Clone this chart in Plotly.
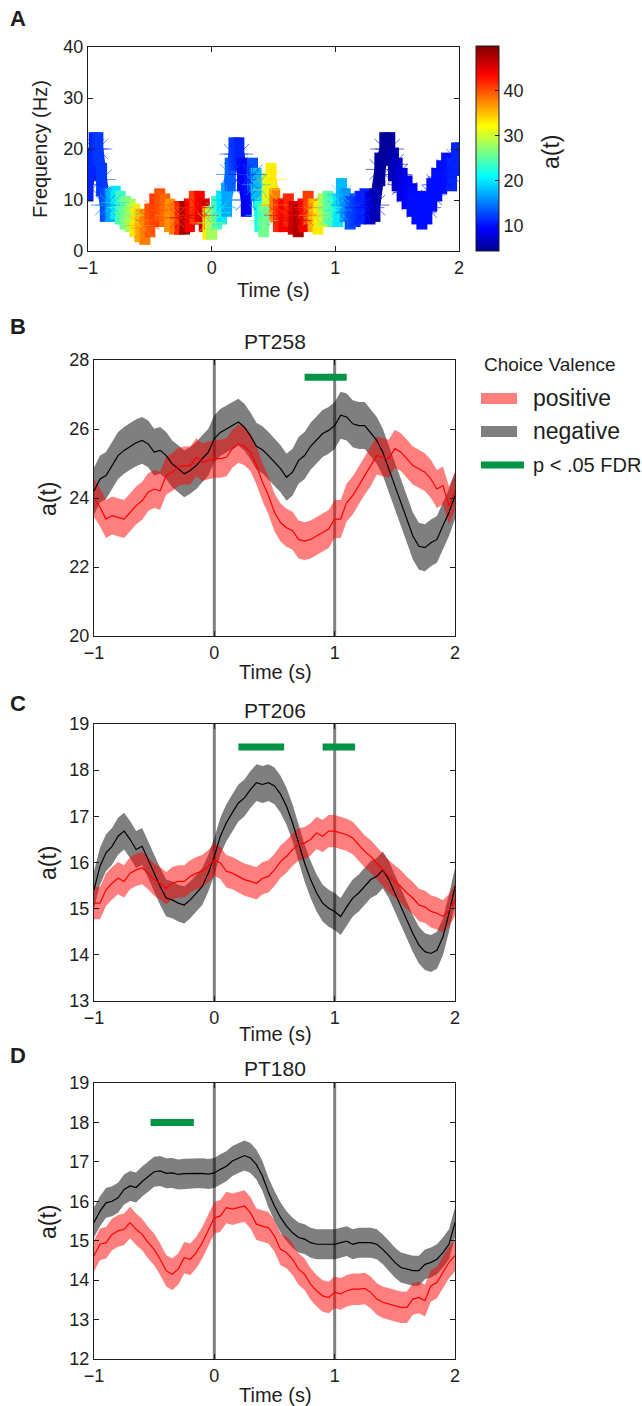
import plotly.graph_objects as go
from plotly.colors import sample_colorscale

W, H = 642, 1406


def px(x):
    return x / W


def py(y):
    return 1 - y / H


# ---------------- data ----------------
# Panel A: spectral trajectory (time s, frequency Hz, a(t))
traj_time = [-1.00, -0.97, -0.95, -0.92, -0.89, -0.86, -0.82, -0.78, -0.74, -0.70,
             -0.66, -0.62, -0.58, -0.54, -0.50, -0.46, -0.42, -0.38, -0.34, -0.30,
             -0.26, -0.22, -0.18, -0.14, -0.10, -0.06, -0.03, 0.00, 0.04, 0.08,
             0.12, 0.15, 0.18, 0.22, 0.25, 0.28, 0.30, 0.33, 0.36, 0.39,
             0.42, 0.45, 0.48, 0.51, 0.54, 0.58, 0.62, 0.66, 0.70, 0.74,
             0.78, 0.82, 0.86, 0.90, 0.94, 0.98, 1.02, 1.05, 1.08, 1.12,
             1.16, 1.20, 1.24, 1.28, 1.32, 1.36, 1.40, 1.44, 1.47, 1.50,
             1.54, 1.58, 1.62, 1.66, 1.70, 1.74, 1.78, 1.82, 1.86, 1.90,
             1.94, 1.98, 2.01]
traj_freq = [13, 17, 20, 20, 14, 9, 9, 9.5, 8.5, 7.5,
             7, 6, 5, 4.5, 6, 8, 9, 8, 7, 6.5,
             6.5, 6.5, 7, 8.5, 8.5, 7, 5.5, 5.5, 7.5, 8.5,
             10, 15, 19, 19, 15, 10, 14, 15, 13, 7,
             6, 12, 14, 9, 7, 7, 8, 6.5, 6, 7,
             8.5, 7, 6.5, 8, 8.5, 8, 8, 11, 9, 7.5,
             8, 8.5, 9, 8.5, 9, 16, 20, 20, 17, 15,
             13, 11.5, 10, 8.5, 7.5, 8.5, 11, 13, 14.5, 16,
             15, 18, 18]
traj_a = [11, 11, 11, 12, 12, 13, 17, 20, 24, 26,
          28, 33, 36, 38, 40, 41, 40, 39, 37, 38,
          42, 48, 44, 41, 44, 46, 33, 28, 24, 20,
          17, 14, 12, 11, 9, 9, 10, 13, 18, 22,
          26, 30, 33, 38, 42, 44, 42, 46, 48, 44,
          41, 36, 33, 29, 25, 24, 20, 18, 16, 13,
          12, 11, 11, 8, 6, 5, 5, 5, 6, 7,
          8, 9, 10, 10, 10, 10, 10, 10, 10, 10,
          11, 11, 11]
a_min, a_max = 4.4, 50

# Panels B-D: mean a(t) per valence
time = [round(-1 + 0.05 * i, 2) for i in range(61)]
events = [0, 1]

B_neg = [24.2, 24.55, 24.65, 24.95, 25.23, 25.38, 25.5, 25.6, 25.67, 25.57,
         25.33, 25.38, 25.23, 24.99, 24.85, 24.7, 24.8, 24.94, 25.14, 25.33,
         25.72, 25.9, 26.0, 26.1, 26.2, 26.05, 25.8, 25.5, 25.4, 25.23,
         25.04, 24.85, 24.6, 24.75, 25.09, 25.23, 25.5, 25.67, 25.87, 25.96,
         26.1, 26.4, 26.35, 26.15, 26.1, 26.1, 25.87, 25.67, 25.33, 24.85,
         24.36, 23.87, 23.39, 22.9, 22.6, 22.56, 22.7, 22.8, 23.2, 23.58, 24.07]
B_pos = [24.0, 23.73, 23.39, 23.49, 23.44, 23.39, 23.58, 23.78, 23.92, 24.17,
         24.26, 24.21, 24.65, 24.75, 24.9, 24.94, 24.94, 25.18, 25.04, 25.09,
         25.14, 25.14, 25.18, 25.43, 25.57, 25.5, 25.33, 24.94, 24.46, 24.07,
         23.58, 23.29, 23.14, 23.05, 22.8, 22.75, 22.8, 22.9, 23.0, 23.1,
         23.39, 23.39, 23.87, 24.07, 24.36, 24.65, 24.9, 25.23, 25.18, 25.14,
         25.43, 25.33, 25.14, 24.94, 24.85, 24.75, 24.55, 24.26, 24.36, 23.78, 24.2]
C_neg = [15.41, 15.92, 16.21, 16.35, 16.57, 16.68, 16.5, 16.28, 16.35, 16.06,
         15.77, 15.48, 15.23, 15.19, 15.12, 15.08, 15.19, 15.34, 15.48, 15.77,
         16.13, 16.57, 16.86, 17.08, 17.29, 17.4, 17.58, 17.73, 17.69, 17.73,
         17.66, 17.48, 17.22, 16.86, 16.42, 15.99, 15.63, 15.34, 15.12, 15.01,
         14.94, 14.83, 15.04, 15.23, 15.34, 15.48, 15.63, 15.7, 15.84, 15.63,
         15.34, 15.04, 14.75, 14.46, 14.21, 14.07, 14.03, 14.1, 14.39, 14.9, 15.48]
C_pos = [15.12, 15.12, 15.41, 15.55, 15.66, 15.59, 15.77, 15.84, 15.88, 15.77,
         15.63, 15.55, 15.44, 15.55, 15.59, 15.59, 15.7, 15.77, 15.81, 15.92,
         16.06, 15.99, 15.81, 15.77, 15.7, 15.63, 15.59, 15.55, 15.66, 15.7,
         15.84, 16.02, 16.13, 16.28, 16.39, 16.42, 16.5, 16.64, 16.57, 16.68,
         16.68, 16.64, 16.6, 16.53, 16.39, 16.24, 16.13, 15.99, 15.84, 15.7,
         15.59, 15.48, 15.34, 15.23, 15.08, 15.04, 14.94, 14.9, 14.83, 14.97, 15.19]
D_neg = [15.46, 15.75, 15.96, 16.0, 16.09, 16.3, 16.39, 16.35, 16.5, 16.62,
         16.75, 16.77, 16.71, 16.72, 16.68, 16.7, 16.7, 16.71, 16.71, 16.69,
         16.72, 16.81, 16.89, 17.02, 17.1, 17.16, 17.1, 16.93, 16.64, 16.22,
         15.88, 15.59, 15.37, 15.2, 15.08, 15.04, 14.95, 14.91, 14.91, 14.91,
         14.91, 14.95, 14.99, 14.91, 14.95, 14.95, 14.95, 14.91, 14.78, 14.62,
         14.45, 14.32, 14.28, 14.24, 14.24, 14.4, 14.45, 14.53, 14.7, 14.91, 15.46]
D_pos = [14.62, 14.91, 14.95, 15.16, 15.25, 15.29, 15.46, 15.29, 15.16, 14.95,
         14.78, 14.53, 14.24, 14.15, 14.28, 14.57, 14.53, 14.7, 14.95, 15.25,
         15.58, 15.63, 15.84, 15.8, 15.84, 15.88, 15.71, 15.42, 15.37, 15.33,
         15.12, 14.78, 14.7, 14.53, 14.28, 14.15, 13.9, 13.73, 13.6, 13.56,
         13.69, 13.65, 13.73, 13.77, 13.77, 13.79, 13.69, 13.52, 13.44, 13.39,
         13.35, 13.31, 13.31, 13.52, 13.56, 13.48, 13.86, 13.94, 14.2, 14.45, 14.62]

# standard error half-widths (negative, positive)
B_sem = [0.68, 0.55]
C_sem = [0.40, 0.35]
D_sem = [0.38, 0.40]

# significant windows (start, end) and their plotting height
B_sig = [(0.75, 1.1)]
C_sig = [(0.2, 0.58), (0.9, 1.17)]
D_sig = [(-0.53, -0.17)]
sig_y = [27.5, 18.5, 18.0]

titles = ["PT258", "PT206", "PT180"]
yranges = [(20, 28), (13, 19), (12, 19)]
yticks = [[20, 22, 24, 26, 28], [13, 14, 15, 16, 17, 18, 19], [12, 13, 14, 15, 16, 17, 18, 19]]
xticks = [-1, 0, 1, 2]
freq_ticks = [0, 10, 20, 30, 40]
cbar_ticks = [10, 20, 30, 40]

# ---------------- style ----------------
FONT = "Liberation Sans, Arial, sans-serif"
INK = "#1e1e1e"
JET = [[0.0, "rgb(0,0,143)"], [0.11, "rgb(0,0,255)"], [0.365, "rgb(0,255,255)"],
       [0.61, "rgb(255,255,0)"], [0.86, "rgb(255,0,0)"], [1.0, "rgb(128,0,0)"]]
NEG_FILL = "rgba(0,0,0,0.5)"
POS_FILL = "rgba(255,0,0,0.5)"
GREEN = "rgb(0,148,68)"
VGRAY = "rgb(128,128,128)"

fig = go.Figure()

# ---------------- panel A ----------------
for i in range(len(traj_time) - 1):
    am = (traj_a[i] + traj_a[i + 1]) / 2
    c = sample_colorscale(JET, [(am - a_min) / (a_max - a_min)])[0]
    fig.add_trace(go.Scatter(x=[traj_time[i], traj_time[i + 1]], y=[traj_freq[i], traj_freq[i + 1]],
                             mode="lines", line=dict(color=c, width=11), xaxis="x", yaxis="y",
                             showlegend=False, hoverinfo="skip"))
fig.add_trace(go.Scatter(
    x=traj_time, y=traj_freq, mode="markers", xaxis="x", yaxis="y", showlegend=False,
    marker=dict(symbol="line-ns-open", size=24, color=traj_a, colorscale=JET, cmin=a_min, cmax=a_max,
                line=dict(width=11),
                colorbar=dict(x=px(476), xanchor="left", y=py(148.5), yanchor="middle",
                              len=205 / H, lenmode="fraction", thickness=23, thicknessmode="pixels",
                              tickvals=cbar_ticks, ticks="inside", ticklen=4, tickcolor=INK,
                              outlinewidth=1, outlinecolor=INK, xpad=0, ypad=0,
                              tickfont=dict(family=FONT, size=18, color=INK)))))
fig.add_trace(go.Scatter(
    x=traj_time, y=traj_freq, mode="markers", xaxis="x", yaxis="y", showlegend=False,
    marker=dict(symbol="asterisk-open", size=24, color=traj_a, colorscale=JET, cmin=a_min, cmax=a_max,
                line=dict(width=0.6))))

# ---------------- panels B-D ----------------
panels = [(B_neg, B_pos, B_sem, B_sig), (C_neg, C_pos, C_sem, C_sig), (D_neg, D_pos, D_sem, D_sig)]
for k, (neg, pos, sem, sig) in enumerate(panels):
    xa, ya = "x%d" % (k + 2), "y%d" % (k + 2)
    for vals, s, fillc in [(neg, sem[0], NEG_FILL), (pos, sem[1], POS_FILL)]:
        up = [v + s for v in vals]
        lo = [v - s for v in vals]
        fig.add_trace(go.Scatter(x=time + time[::-1], y=up + lo[::-1], fill="toself", fillcolor=fillc,
                                 line=dict(width=0), mode="lines", xaxis=xa, yaxis=ya,
                                 showlegend=False, hoverinfo="skip"))
    fig.add_trace(go.Scatter(x=time, y=neg, mode="lines", line=dict(color="black", width=1.2),
                             xaxis=xa, yaxis=ya, showlegend=False))
    fig.add_trace(go.Scatter(x=time, y=pos, mode="lines", line=dict(color="red", width=1.2),
                             xaxis=xa, yaxis=ya, showlegend=False))
    for (s0, s1) in sig:
        fig.add_trace(go.Scatter(x=[s0, s1], y=[sig_y[k], sig_y[k]], mode="lines",
                                 line=dict(color=GREEN, width=7), xaxis=xa, yaxis=ya, showlegend=False))
    for ev in events:
        fig.add_shape(type="line", x0=ev, x1=ev, y0=0, y1=1, xref=xa, yref=ya + " domain",
                      line=dict(color=VGRAY, width=3), layer="below")

# ---------------- axes ----------------
def ax_style(**kw):
    d = dict(showline=True, linecolor=INK, linewidth=1.3, mirror="ticks", ticks="inside",
             ticklen=5, tickcolor=INK, tickwidth=1, showgrid=False, zeroline=False,
             tickfont=dict(family=FONT, size=18, color=INK))
    d.update(kw)
    return d


box_x = [94, 455]
ydoms = [(360, 636), (724, 1001), (1083, 1359)]
layout = dict(
    width=W, height=H, margin=dict(l=0, r=0, t=0, b=0, autoexpand=False),
    paper_bgcolor="white", plot_bgcolor="white",
    xaxis=ax_style(domain=[px(88), px(459)], range=[-1, 2], tickvals=xticks, anchor="y"),
    yaxis=ax_style(domain=[py(251), py(47)], range=[0, 40], tickvals=freq_ticks, anchor="x"),
)
for k in range(3):
    n = k + 2
    layout["xaxis%d" % n] = ax_style(domain=[px(box_x[0]), px(box_x[1])], range=[-1, 2],
                                     tickvals=xticks, anchor="y%d" % n)
    layout["yaxis%d" % n] = ax_style(domain=[py(ydoms[k][1]), py(ydoms[k][0])], range=list(yranges[k]),
                                     tickvals=yticks[k], anchor="x%d" % n)
fig.update_layout(**layout)

# ---------------- text ----------------
ann = []


def text(x, y, s, size, bold=False, angle=0, xanchor="center"):
    ann.append(dict(x=px(x), y=py(y), xref="paper", yref="paper", text=("<b>%s</b>" % s) if bold else s,
                    showarrow=False, textangle=angle, xanchor=xanchor, yanchor="middle",
                    font=dict(family=FONT, size=size, color=INK)))


for lab, yy in zip("ABCD", [19, 326, 703, 1055]):
    text(18, yy, lab, 22, bold=True)
text(40, 149, "Frequency (Hz)", 20, angle=-90)
text(273, 290, "Time (s)", 20)
text(551, 152, "a(t)", 23, angle=-90)
for k, (ty, tl_y, yl_y) in enumerate([(342, 672, 498), (710, 1034, 862), (1068, 1395, 1221)]):
    text(275, ty, titles[k], 21)
    text(275, tl_y, "Time (s)", 20)
    text(48, yl_y, "a(t)", 23, angle=-90)

# legend (manual)
text(482, 365, "Choice Valence", 19, xanchor="left")
text(531, 398, "positive", 23, xanchor="left")
text(531, 431, "negative", 23, xanchor="left")
text(531, 465, "p &lt; .05 FDR", 20, xanchor="left")
fig.add_shape(type="rect", xref="paper", yref="paper", x0=px(481), x1=px(517), y0=py(404), y1=py(393),
              fillcolor=POS_FILL, line=dict(width=0))
fig.add_shape(type="rect", xref="paper", yref="paper", x0=px(481), x1=px(517), y0=py(437), y1=py(426),
              fillcolor=NEG_FILL, line=dict(width=0))
fig.add_shape(type="line", xref="paper", yref="paper", x0=px(481), x1=px(524), y0=py(465), y1=py(465),
              line=dict(color=GREEN, width=7))

fig.update_layout(annotations=ann)
fig.write_html("out.html", config={"displayModeBar": False},
               post_script="document.body.style.margin='0';document.body.style.padding='0';"
                           "document.body.style.overflow='hidden';")
